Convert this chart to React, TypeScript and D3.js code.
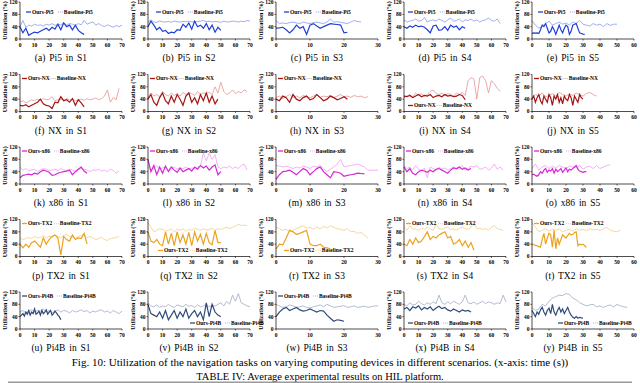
import * as d3 from 'd3'

// devices (rows) and scenarios (columns)
const devices = ['Pi5', 'NX', 'x86', 'TX2', 'Pi4B']
const scenarios = ['S1', 'S2', 'S3', 'S4', 'S5']
const scenarioMax = [70, 70, 30, 70, 60]
const yTicks = [0, 40, 80, 120]
const letters = 'abcdefghijklmnopqrstuvwxy'.split('')

const oursColors = ['#1f3fd6', '#a31515', '#d428d4', '#eba21e', '#2f4a78']
const baseColors = ['#93a5f2', '#e6a0a0', '#f2a8f2', '#f6d391', '#a9b4cc']

// Pi5
const pi5S1Ours = [40, 20, 35, 12, 18, 22, 20, 25, 30, 35, 28, 38, 32, 48, 30, 52, 40, 45, 30, 45, 28, 20, 15]
const pi5S1Base = [40, 60, 38, 45, 42, 48, 44, 46, 42, 48, 45, 50, 44, 48, 46, 52, 45, 50, 48, 44, 50, 46, 60, 48, 52, 56, 45, 50, 44, 40, 46, 42, 38, 44, 40, 45]
const pi5S2Ours = [40, 58, 45, 30, 38, 25, 28, 18, 22, 20, 30, 28, 48, 38, 52, 32, 58, 40, 45, 35, 50, 30, 45, 22, 38, 28]
const pi5S2Base = [55, 62, 55, 54, 58, 56, 55, 57, 54, 58, 56, 55, 57, 56, 58, 55, 57, 56, 58, 60, 56, 58, 55, 57, 56, 54, 58, 55, 56, 58, 57, 55, 58, 56, 60, 58]
const pi5S3Ours = [35, 36, 38, 30, 20, 30, 45, 35, 40, 15, 45, 50, 42, 35, 40, 45, 50, 48, 47, 45, 20, 22]
const pi5S3Base = [60, 50, 52, 50, 53, 55, 52, 50, 55, 52, 50, 53, 55, 52, 50, 55, 65, 55, 56, 54, 52, 50, 55, 60, 57, 55]
const pi5S4Ours = [40, 35, 42, 38, 45, 40, 42, 38, 30, 20, 42, 45, 28, 30, 40, 28, 45, 38, 42, 30, 40, 35]
const pi5S4Base = [62, 55, 58, 60, 65, 58, 60, 70, 55, 60, 62, 58, 65, 60, 55, 62, 68, 58, 60, 65, 55, 62, 60, 65, 58, 62, 55, 60, 62, 68, 60, 58, 65, 50]
const pi5S5Ours = [18, 20, 19, 20, 18, 30, 45, 40, 50, 35, 20, 25, 40, 30, 15, 30, 45, 30, 20, 35, 45, 40, 15, 25, 45, 48, 50, 35, 20, 18, 16, 15]
const pi5S5Base = [60, 45, 35, 42, 50, 58, 45, 50, 55, 48, 52, 45, 55, 50, 60, 48, 45, 42, 50, 45, 48, 40, 50, 44, 48, 48]

// NX
const nxS1Ours = [20, 18, 22, 15, 20, 25, 30, 40, 25, 20, 18, 10, 30, 28, 48, 35, 38, 30, 42, 20, 38, 28, 15]
const nxS1Base = [30, 35, 28, 32, 38, 35, 40, 36, 42, 38, 40, 48, 35, 38, 40, 36, 42, 38, 40, 35, 38, 40, 36, 42, 38, 40, 44, 38, 42, 50, 70, 30, 45, 38, 75]
const nxS2Ours = [40, 55, 30, 20, 45, 60, 35, 25, 50, 30, 55, 40, 20, 50, 60, 30, 45, 25, 55, 35, 60, 30, 50, 25, 40]
const nxS2Base = [45, 60, 50, 55, 48, 65, 55, 50, 60, 52, 58, 50, 62, 55, 60, 58, 52, 65, 55, 60, 58, 62, 55, 80, 60, 95, 65, 55, 60, 70, 58, 65, 60, 70, 65]
const nxS3Ours = [40, 35, 50, 45, 30, 55, 40, 35, 45, 50, 38, 42, 55, 45, 35, 40, 50, 45, 38, 42, 48, 40]
const nxS3Base = [45, 50, 42, 48, 55, 45, 50, 44, 52, 48, 45, 50, 55, 46, 50, 48, 52, 45, 50, 55, 48, 50, 46, 52, 48, 50, 45, 48]
const nxS4Ours = [50, 48, 52, 45, 50, 55, 48, 52, 50, 55, 45, 50, 52, 48, 55, 50, 52, 48, 50, 55, 52, 38]
const nxS4Base = [45, 50, 55, 48, 60, 52, 58, 50, 55, 65, 70, 58, 55, 60, 52, 58, 55, 50, 60, 55, 62, 52, 100, 110, 105, 40, 110, 115, 100, 60, 100, 90, 75, 65]
const nxS5Ours = [40, 50, 30, 45, 55, 35, 25, 50, 40, 30, 55, 45, 20, 50, 40, 55, 30, 45, 25, 50, 40, 35, 55, 45, 20, 50, 40, 30, 55, 45, 40]
const nxS5Base = [45, 55, 50, 60, 48, 52, 58, 50, 62, 55, 50, 58, 52, 60, 55, 50, 58, 62, 55, 50]

// x86
const x86S1Ours = [20, 28, 30, 32, 30, 35, 32, 40, 45, 42, 38, 28, 30, 35, 38, 40, 42, 45, 30, 40, 48, 55, 42, 35]
const x86S1Base = [55, 45, 50, 42, 45, 48, 40, 46, 50, 48, 44, 45, 48, 42, 50, 46, 44, 48, 45, 42, 46, 50, 48, 45, 40, 46, 44, 48, 42, 45, 40, 48, 44, 35, 42]
const x86S2Ours = [80, 40, 60, 30, 55, 35, 58, 40, 55, 45, 38, 52, 40, 45, 50, 42, 55, 48, 60, 52, 58, 45, 55, 62, 30, 40]
const x86S2Base = [55, 45, 50, 60, 48, 52, 55, 45, 50, 55, 48, 52, 50, 55, 48, 52, 50, 55, 58, 100, 75, 100, 80, 95, 55, 50, 55, 52, 58, 50, 55, 50, 60, 65, 45]
const x86S3Ours = [15, 30, 40, 42, 45, 38, 30, 40, 50, 45, 30, 40, 50, 55, 40, 30, 20, 40, 38, 35, 25, 28, 30, 32, 35, 34, 33]
const x86S3Base = [60, 58, 55, 58, 55, 50, 55, 52, 58, 55, 50, 58, 55, 60, 50, 40, 48, 55, 65, 80, 55, 58, 60, 62, 65, 60, 55, 45, 44, 45, 45]
const x86S4Ours = [55, 40, 50, 35, 30, 40, 45, 42, 38, 45, 40, 48, 50, 45, 40, 35, 45, 52, 50, 55, 48, 52, 45, 50]
const x86S4Base = [60, 50, 55, 45, 60, 48, 42, 52, 20, 55, 50, 45, 55, 48, 52, 45, 50, 55, 48, 52, 60, 45, 50, 58, 55, 60, 48, 50, 55, 45, 52, 65, 48, 55, 45]
const x86S5Ours = [30, 32, 28, 25, 30, 40, 35, 45, 50, 38, 45, 42, 50, 35, 48, 40, 45, 50, 38, 45, 52, 40, 48, 45, 50, 55, 60, 48, 42, 40, 38, 40, 40]
const x86S5Base = [50, 65, 45, 55, 60, 50, 58, 52, 60, 55, 50, 58, 55, 52, 60, 48, 55, 58, 50, 60, 50, 55, 60, 62]

// TX2
const tx2S1Ours = [40, 28, 40, 30, 45, 50, 40, 30, 60, 40, 55, 65, 70, 60, 5, 65, 55, 50, 70, 55, 60, 58, 75, 40]
const tx2S1Base = [60, 55, 58, 62, 58, 65, 60, 62, 68, 60, 65, 62, 70, 65, 60, 68, 72, 65, 62, 60, 65, 68, 70, 62, 65, 60, 55, 58, 62, 55, 52, 58, 60, 62, 65]
const tx2S2Ours = [80, 50, 45, 55, 40, 35, 80, 40, 75, 35, 80, 45, 70, 40, 78, 35, 80, 50, 72, 40, 75, 45, 38, 85, 45, 45]
const tx2S2Base = [110, 95, 80, 85, 90, 88, 82, 85, 90, 80, 88, 85, 90, 82, 88, 85, 92, 88, 85, 90, 86, 88, 92, 85, 90, 88, 92, 95, 90, 95, 98, 105, 100, 102, 100]
const tx2S3Ours = [25, 40, 38, 60, 85, 80, 72, 75, 80, 85, 40, 35, 35, 40, 30, 28, 25]
const tx2S3Base = [95, 90, 85, 88, 80, 85, 90, 95, 100, 92, 95, 88, 95, 90, 98, 92, 100, 95, 90, 88, 85, 90, 80, 82, 75, 78, 70, 60]
const tx2S4Ours = [40, 35, 55, 40, 60, 45, 50, 65, 80, 55, 65, 60, 70, 75, 80, 60, 65, 40, 45, 55, 35, 50, 30, 45, 20]
const tx2S4Base = [95, 85, 100, 88, 90, 85, 92, 88, 95, 90, 85, 105, 90, 88, 92, 95, 88, 90, 85, 92, 95, 90, 88, 95, 110, 90, 92, 88, 90, 85, 95, 100, 90, 88, 85]
const tx2S5Ours = [40, 38, 36, 35, 32, 30, 55, 75, 40, 60, 75, 70, 30, 85, 25, 60, 40, 55, 70, 65, 60, 68, 75, 70, 72, 78, 80, 35, 40, 38, 40, 35, 30]
const tx2S5Base = [110, 95, 80, 85, 90, 82, 88, 85, 90, 80, 85, 88, 82, 90, 85, 88, 84, 90, 86, 88, 85, 90, 95, 85, 82, 80, 85]

// Pi4B
const pi4bS1Ours = [40, 45, 50, 42, 55, 48, 60, 45, 55, 50, 65, 48, 52, 58, 45, 60, 50, 55, 62, 48, 55, 60, 45, 50, 58, 52, 45, 40, 30]
const pi4bS1Base = [55, 60, 52, 58, 62, 55, 60, 58, 65, 55, 60, 52, 58, 62, 55, 60, 58, 52, 60, 55, 58, 62, 56, 60, 52, 58, 55, 60, 62, 55, 58, 52, 60, 55, 50, 58]
const pi4bS2Ours = [80, 50, 45, 40, 55, 35, 60, 30, 45, 60, 35, 55, 40, 65, 35, 50, 60, 40, 55, 30, 85, 40, 80, 55, 45, 40]
const pi4bS2Base = [85, 75, 72, 78, 70, 75, 72, 80, 74, 70, 78, 75, 72, 80, 74, 76, 70, 78, 72, 75, 80, 72, 78, 74, 80, 85, 75, 90, 80, 110, 90, 115, 85, 80, 75, 72]
const pi4bS3Ours = [40, 55, 65, 70, 60, 65, 70, 62, 58, 60, 65, 60, 55, 60, 58, 45, 35, 25, 30, 28, 25]
const pi4bS3Base = [80, 75, 70, 72, 78, 75, 70, 72, 75, 70, 68, 72, 75, 78, 72, 80, 75, 70, 72, 74, 76, 70, 72, 75, 70, 72, 74, 70, 72, 75, 75]
const pi4bS4Ours = [65, 70, 60, 72, 68, 75, 62, 70, 65, 72, 60, 68, 74, 66, 70, 62, 58, 65, 60, 55, 62, 58, 60, 55]
const pi4bS4Base = [80, 75, 85, 78, 80, 90, 82, 78, 85, 80, 88, 82, 110, 85, 80, 88, 82, 90, 85, 80, 88, 110, 85, 82, 88, 80, 85, 90, 82, 88, 85, 80, 85, 82, 110, 88]
const pi4bS5Ours = [60, 50, 40, 55, 48, 62, 70, 55, 45, 60, 68, 50, 80, 55, 45, 60, 70, 55, 65, 50, 60, 70, 55, 45, 38, 35, 40, 35, 38, 36, 35]
const pi4bS5Base = [70, 60, 65, 80, 75, 90, 100, 105, 110, 108, 115, 112, 100, 95, 85, 80, 75, 78, 80, 72, 75, 70, 75, 78, 72, 80, 75, 72, 70]

const oursData = [
  [pi5S1Ours, pi5S2Ours, pi5S3Ours, pi5S4Ours, pi5S5Ours],
  [nxS1Ours, nxS2Ours, nxS3Ours, nxS4Ours, nxS5Ours],
  [x86S1Ours, x86S2Ours, x86S3Ours, x86S4Ours, x86S5Ours],
  [tx2S1Ours, tx2S2Ours, tx2S3Ours, tx2S4Ours, tx2S5Ours],
  [pi4bS1Ours, pi4bS2Ours, pi4bS3Ours, pi4bS4Ours, pi4bS5Ours],
]
const baseData = [
  [pi5S1Base, pi5S2Base, pi5S3Base, pi5S4Base, pi5S5Base],
  [nxS1Base, nxS2Base, nxS3Base, nxS4Base, nxS5Base],
  [x86S1Base, x86S2Base, x86S3Base, x86S4Base, x86S5Base],
  [tx2S1Base, tx2S2Base, tx2S3Base, tx2S4Base, tx2S5Base],
  [pi4bS1Base, pi4bS2Base, pi4bS3Base, pi4bS4Base, pi4bS5Base],
]
// sampling interval (s) of each series
const oursStep = [
  [2, 2, 1, 2, 1],
  [2, 2, 1, 2, 1],
  [2, 2, 1, 2, 1],
  [2, 2, 1, 2, 1],
  [1, 2, 1, 2, 1],
]
const baseStep = [2, 2, 1, 2, 2]

// legend placement: 't' top / 'b' bottom, offset from left axis
const legendPos = [
  [['t', 6], ['t', 8], ['t', 8], ['t', 4], ['t', 6]],
  [['t', 2], ['t', 2], ['t', 2], ['b', 4], ['t', 2]],
  [['t', 2], ['t', 2], ['t', 2], ['t', 2], ['t', 2]],
  [['t', 2], ['b', 10], ['b', 8], ['t', 2], ['t', 2]],
  [['t', 2], ['b', 42], ['t', 2], ['b', 4], ['b', 26]],
]

const colX0 = 20
const colPitch = 128
const plotW = 102
const rowY0 = 2
const rowPitch = 72.5
const plotH = 37
const font = "'Liberation Serif', 'Times New Roman', serif"

function Panel({ r, c }: { r: number; c: number }) {
  const left = colX0 + colPitch * c
  const top = rowY0 + rowPitch * r
  const bottom = top + plotH
  const x = d3.scaleLinear().domain([0, scenarioMax[c]]).range([left, left + plotW])
  const y = d3.scaleLinear().domain([0, 120]).range([bottom, top])
  const xTicks = d3.range(0, scenarioMax[c] + 1, 10)

  const lineOf = (step: number) =>
    d3.line<number>().x((d, i) => x(i * step)).y(d => y(d))

  const dev = devices[r]
  const [lp, ldx] = legendPos[r][c] as [string, number]
  const ly = lp === 't' ? top + (r === 0 ? 10 : 4) : bottom - 6
  const lx = left + ldx
  const oursLabel = `Ours-${dev}`
  const oursW = oursLabel.length * 3.1

  return (
    <g>
      <path d={lineOf(baseStep[c])(baseData[r][c]) || ''} fill="none" stroke={baseColors[r]} strokeWidth={0.9} />
      <path d={lineOf(oursStep[r][c])(oursData[r][c]) || ''} fill="none" stroke={oursColors[r]} strokeWidth={1.2} />

      {/* axes */}
      <line x1={left} x2={left} y1={top} y2={bottom} stroke="#000" strokeWidth={0.7} />
      <line x1={left} x2={left + plotW} y1={bottom} y2={bottom} stroke="#000" strokeWidth={0.7} />
      {yTicks.map(t => (
        <g key={'y' + t}>
          <line x1={left - 1.5} x2={left} y1={y(t)} y2={y(t)} stroke="#000" strokeWidth={0.6} />
          <text x={left - 2.5} y={y(t)} dy="0.35em" textAnchor="end" fontSize={5.5} fontWeight="bold">{t}</text>
        </g>
      ))}
      {xTicks.map(t => (
        <g key={'x' + t}>
          <line x1={x(t)} x2={x(t)} y1={bottom} y2={bottom + 1.5} stroke="#000" strokeWidth={0.6} />
          <text x={x(t)} y={bottom + 7.5} textAnchor="middle" fontSize={5.5} fontWeight="bold">{t}</text>
        </g>
      ))}
      <text transform={`translate(${left - 13},${top + plotH / 2}) rotate(-90)`} textAnchor="middle"
        fontSize={6} fontWeight="bold">Utilization (%)</text>

      {/* legend */}
      <line x1={lx} x2={lx + 5} y1={ly} y2={ly} stroke={oursColors[r]} strokeWidth={1.3} />
      <text x={lx + 6} y={ly} dy="0.35em" fontSize={5.5} fontWeight="bold">{oursLabel}</text>
      <line x1={lx + 7 + oursW} x2={lx + 12 + oursW} y1={ly} y2={ly} stroke={baseColors[r]} strokeWidth={1.2} strokeDasharray="1,1" />
      <text x={lx + 13 + oursW} y={ly} dy="0.35em" fontSize={5.5} fontWeight="bold">{`Baseline-${dev}`}</text>

      <text x={left + 41} y={bottom + 22} textAnchor="middle" fontSize={9.5} wordSpacing={1.5}>
        {`(${letters[r * 5 + c]}) ${dev} in ${scenarios[c]}`}
      </text>
    </g>
  )
}

export default function App() {
  return (
    <svg width={640} height={383} fontFamily={font}
      style={{ position: 'absolute', left: 0, top: 0, background: '#fff' }}>
      {devices.map((_, r) => scenarios.map((__, c) => <Panel key={r + '-' + c} r={r} c={c} />))}
      <text x={320} y={366} textAnchor="middle" fontSize={11}>
        Fig. 10: Utilization of the navigation tasks on varying computing devices in different scenarios. (x-axis: time (s))
      </text>
      <text x={320} y={379.5} textAnchor="middle" fontSize={10.5}>
        TABLE IV: Average experimental results on HIL platform.
      </text>
      <rect x={8} y={381.5} width={624} height={2} fill="#9a9a9a" />
    </svg>
  )
}
